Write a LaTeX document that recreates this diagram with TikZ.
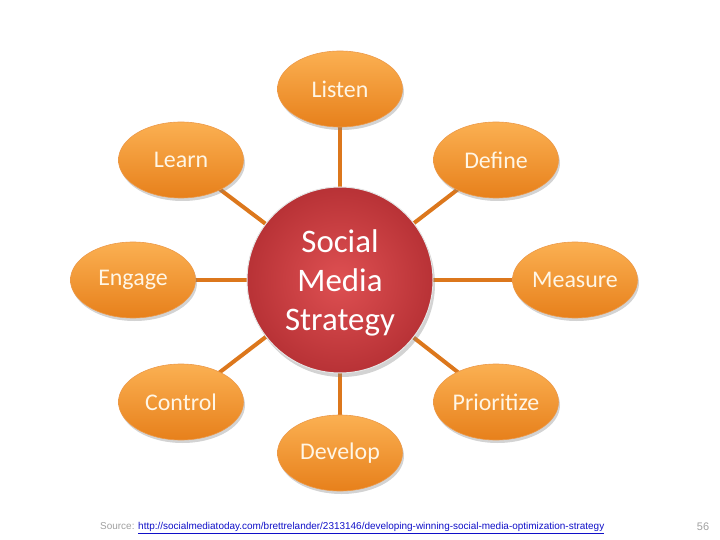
\documentclass[tikz,border=0pt]{standalone}
\usepackage{fontspec}
\setmainfont{Carlito}
\newfontfamily\srcfont{Liberation Sans}
\usetikzlibrary{shapes.geometric,shadows}
\definecolor{spoke}{HTML}{DC771C}
\definecolor{orangetop}{HTML}{FBB052}
\definecolor{orangebot}{HTML}{E7801B}
\definecolor{redin}{HTML}{DE5052}
\definecolor{redout}{HTML}{B83236}
\definecolor{labeltext}{HTML}{FFF6E6}
\definecolor{srcgray}{HTML}{A0A0A0}
\definecolor{srcblue}{HTML}{1010C8}

\begin{document}
\begin{tikzpicture}[x=1bp,y=-1bp,
	petal/.style={ellipse, minimum width=125bp, minimum height=76bp, inner sep=0pt,
		draw=orangebot!80!white, line width=0.6pt,
		top color=orangetop, bottom color=orangebot, middle color=orangetop!50!orangebot,
		drop shadow={shadow xshift=1.5bp, shadow yshift=-3bp, opacity=0.35},
		text=labeltext, font=\fontsize{24}{28}\selectfont},
	hub/.style={circle, minimum size=186bp, inner sep=0pt,
		draw=white!80!gray, line width=1pt,
		inner color=redin, outer color=redout,
		drop shadow={shadow xshift=2bp, shadow yshift=-4bp, opacity=0.35},
		text=white, align=center, font=\fontsize{33}{39}\selectfont},
	spokeline/.style={draw=spoke, line width=4bp}]

	\useasboundingbox (0,0) rectangle (720,540);

	\coordinate (m) at (340,280);

	% spokes first, nodes cover them
	\foreach \p in {(340,89),(181,160),(496,160),(133,280),(575,280),(181,402),(496,402),(340,453)}
		\draw[spokeline] (m) -- \p;

	\node[petal] (listen) at (340,89) {Listen};
	\node[petal] (learn) at (181,160) {Learn};
	\node[petal] (define) at (496,160) {Define};
	\node[petal] (engage) at (133,280) {Engage};
	\node[petal] (measure) at (575,280) {Measure};
	\node[petal] (control) at (181,402) {Control};
	\node[petal] (prioritize) at (496,402) {Prioritize};
	\node[petal] (develop) at (340,453) {Develop};

	\node[hub, text depth=-4bp] (strategy) at (m) {Social\\Media\\Strategy};

	\node[anchor=west, inner sep=0pt, font=\srcfont\fontsize{10}{12}\selectfont] (source) at (100,528)
		{\textcolor{srcgray}{Source:} \textcolor{srcblue}{\underline{http://socialmediatoday.com/brettrelander/2313146/developing-winning-social-media-optimization-strategy}}};
	\node[inner sep=0pt, text=srcgray, font=\srcfont\fontsize{11}{13}\selectfont] (page) at (703,527) {56};
\end{tikzpicture}
\end{document}
